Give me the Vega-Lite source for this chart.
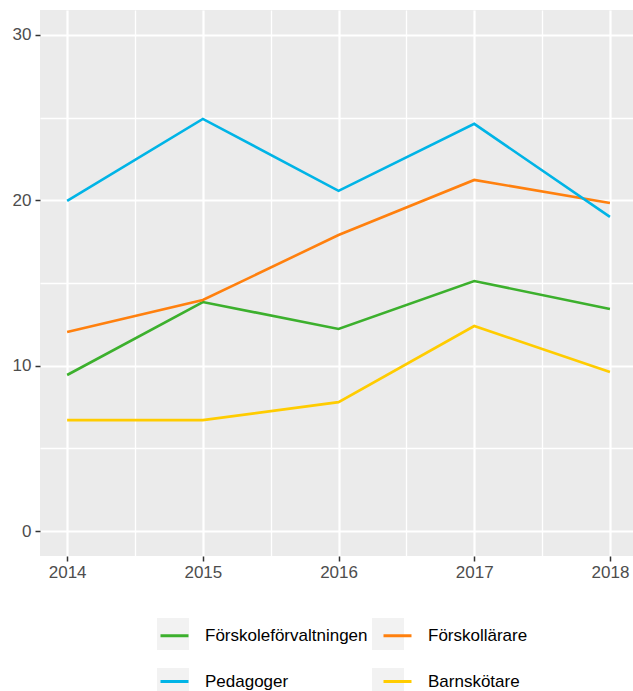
{
  "$schema": "https://vega.github.io/schema/vega-lite/v6.json",
  "width": 593,
  "height": 546,
  "autosize": {"type": "none"},
  "padding": {"left": 40, "top": 10, "right": 0, "bottom": 135},
  "background": "white",
  "config": {
    "view": {"fill": "#ebebeb", "stroke": null},
    "font": "Liberation Sans",
    "axis": {
      "domain": false,
      "gridColor": "white",
      "labelFont": "Liberation Sans",
      "labelFontSize": 17,
      "labelColor": "#4d4d4d",
      "tickColor": "#333333",
      "tickWidth": 1.5,
      "title": null
    }
  },
  "data": {
    "values": [
      {"year": 2014, "series": "Förskoleförvaltningen", "key": "Förskoleförvaltningen", "value": 9.44},
      {"year": 2015, "series": "Förskoleförvaltningen", "key": "Förskoleförvaltningen", "value": 13.85},
      {"year": 2016, "series": "Förskoleförvaltningen", "key": "Förskoleförvaltningen", "value": 12.22},
      {"year": 2017, "series": "Förskoleförvaltningen", "key": "Förskoleförvaltningen", "value": 15.12},
      {"year": 2018, "series": "Förskoleförvaltningen", "key": "Förskoleförvaltningen", "value": 13.43},
      {"year": 2014, "series": "Förskollärare", "key": "Förskollärare", "value": 12.04},
      {"year": 2015, "series": "Förskollärare", "key": "Förskollärare", "value": 13.97},
      {"year": 2016, "series": "Förskollärare", "key": "Förskollärare", "value": 17.9},
      {"year": 2017, "series": "Förskollärare", "key": "Förskollärare", "value": 21.23},
      {"year": 2018, "series": "Förskollärare", "key": "Förskollärare", "value": 19.84},
      {"year": 2014, "series": "Pedagoger", "key": "Pedagoger", "value": 19.96},
      {"year": 2015, "series": "Pedagoger", "key": "Pedagoger", "value": 24.92},
      {"year": 2016, "series": "Pedagoger", "key": "Pedagoger", "value": 20.57},
      {"year": 2017, "series": "Pedagoger", "key": "Pedagoger", "value": 24.62},
      {"year": 2018, "series": "Pedagoger", "key": "Pedagoger", "value": 19.0},
      {"year": 2014, "series": "Barnskötare", "key": "Barnskötare", "value": 6.71},
      {"year": 2015, "series": "Barnskötare", "key": "Barnskötare", "value": 6.71},
      {"year": 2016, "series": "Barnskötare", "key": "Barnskötare", "value": 7.8},
      {"year": 2017, "series": "Barnskötare", "key": "Barnskötare", "value": 12.4},
      {"year": 2018, "series": "Barnskötare", "key": "Barnskötare", "value": 9.62}
    ]
  },
  "encoding": {
    "x": {
      "field": "year",
      "type": "quantitative",
      "scale": {"domain": [2013.8, 2018.17], "nice": false, "zero": false},
      "axis": {
        "values": [2014, 2014.5, 2015, 2015.5, 2016, 2016.5, 2017, 2017.5, 2018],
        "labelExpr": "datum.value % 1 == 0 ? format(datum.value, 'd') : ''",
        "tickSize": {"condition": {"test": "datum.value % 1 != 0", "value": 0}, "value": 5},
        "gridWidth": {"condition": {"test": "datum.value % 1 != 0", "value": 1.3}, "value": 2.2},
        "labelPadding": 3
      }
    },
    "y": {
      "field": "value",
      "type": "quantitative",
      "scale": {"domain": [-1.5, 31.5], "nice": false, "zero": false},
      "axis": {
        "values": [0, 5, 10, 15, 20, 25, 30],
        "labelExpr": "datum.value % 10 == 0 ? format(datum.value, 'd') : ''",
        "tickSize": {"condition": {"test": "datum.value % 10 != 0", "value": 0}, "value": 5},
        "gridWidth": {"condition": {"test": "datum.value % 10 != 0", "value": 1.3}, "value": 2.2},
        "labelPadding": 4
      }
    }
  },
  "layer": [
    {
      "mark": {"type": "point", "filled": true, "size": 0, "strokeWidth": 0},
      "encoding": {
        "fill": {
          "field": "key",
          "type": "nominal",
          "sort": ["Förskoleförvaltningen", "Förskollärare", "Pedagoger", "Barnskötare"],
          "scale": {
            "range": ["#f2f2f2", "#f2f2f2", "#f2f2f2", "#f2f2f2"]
          },
          "legend": {
            "title": null,
            "orient": "none",
            "legendX": 117,
            "legendY": 608,
            "zindex": 0,
            "columns": 2,
            "direction": "horizontal",
            "symbolType": "square",
            "symbolSize": 1024,
            "symbolStrokeWidth": 0,
            "symbolOpacity": 1,
            "labelFont": "Liberation Sans",
            "labelFontSize": 17,
            "labelLimit": 400,
            "labelOpacity": 0,
            "labelOffset": 11,
            "rowPadding": 18,
            "columnPadding": 9,
            "padding": 0
          }
        }
      }
    },
    {
      "mark": {"type": "line", "strokeWidth": 2.6},
      "encoding": {
        "color": {
          "field": "series",
          "type": "nominal",
          "sort": ["Förskoleförvaltningen", "Förskollärare", "Pedagoger", "Barnskötare"],
          "scale": {
            "domain": ["Förskoleförvaltningen", "Förskollärare", "Pedagoger", "Barnskötare"],
            "range": ["#3cb02d", "#ff800e", "#00b4e6", "#ffcc00"]
          },
          "legend": {
            "title": null,
            "orient": "none",
            "legendX": 119,
            "legendY": 610,
            "zindex": 1,
            "columns": 2,
            "direction": "horizontal",
            "symbolType": "stroke",
            "symbolSize": 784,
            "symbolStrokeWidth": 3,
            "labelFont": "Liberation Sans",
            "labelFontSize": 17,
            "labelLimit": 400,
            "labelColor": "black",
            "labelOffset": 15,
            "rowPadding": 22,
            "columnPadding": 9,
            "padding": 0
          }
        }
      }
    }
  ]
}
